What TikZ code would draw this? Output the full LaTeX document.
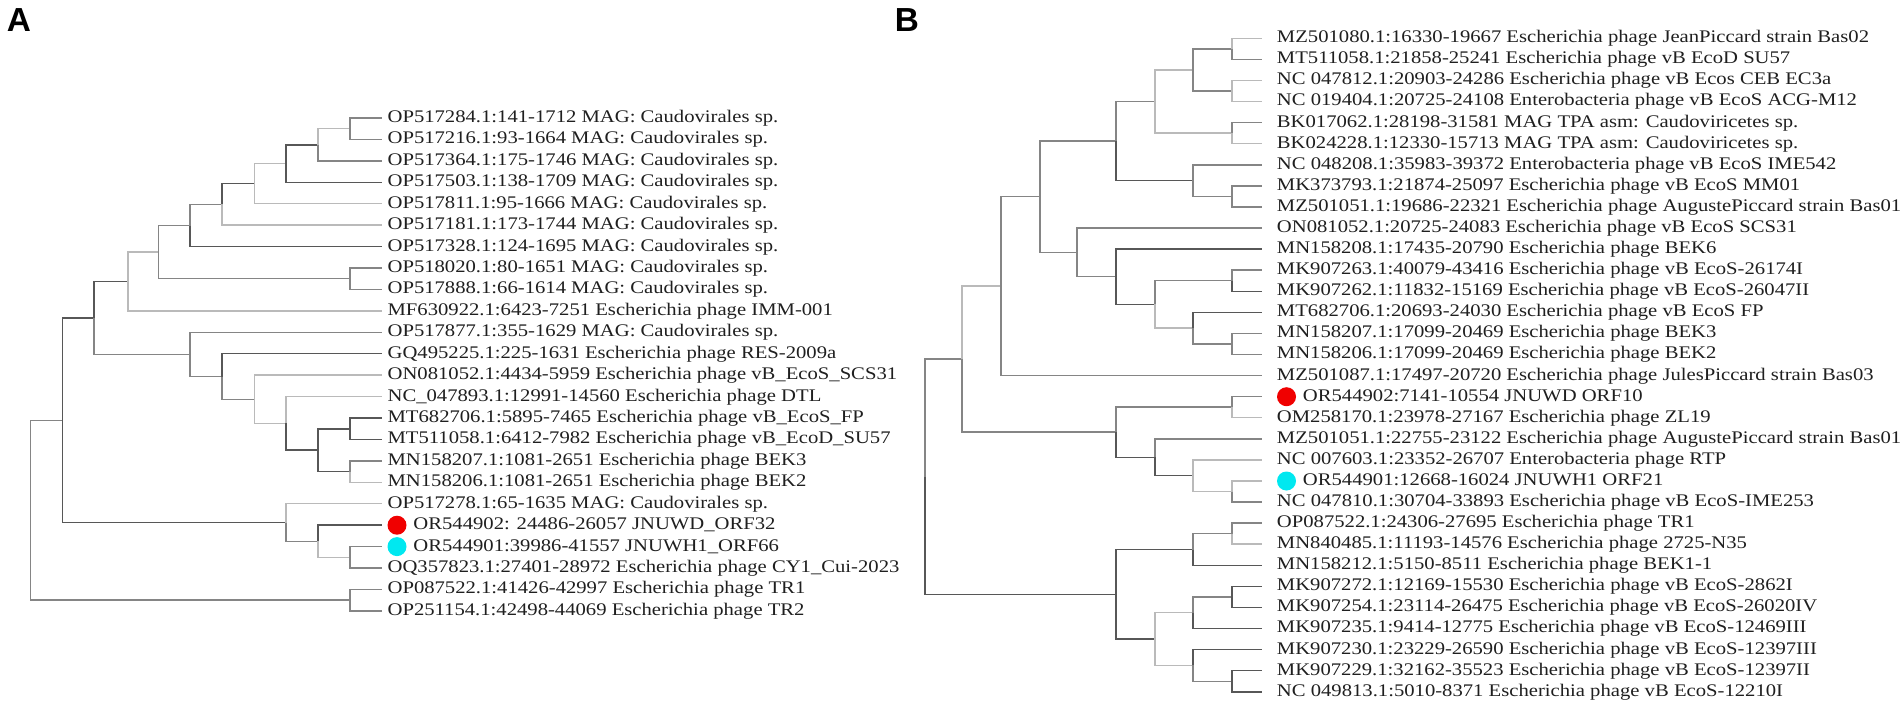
\documentclass[tikz,border=0pt]{standalone}
\usepackage{fontspec}
\setmainfont{Liberation Serif}
\newfontfamily\lblfont[FakeStretch=1.165]{Liberation Serif}
\newfontfamily\panelfont{Liberation Sans}
\usetikzlibrary{positioning}

\definecolor{dotred}{RGB}{240,0,0}
\definecolor{dotcyan}{RGB}{0,232,240}

\tikzset{
  dk/.style={draw=black!66, line width=1.1pt},
  md/.style={draw=black!48, line width=1.1pt},
  lt/.style={draw=black!27, line width=1.1pt},
  leaf/.style={anchor=west, inner xsep=#1, inner ysep=0pt, text height=0.66em, text depth=0pt,
    font=\lblfont\fontsize{13.3pt}{15pt}\selectfont, text=black!88},
  leaf/.default=4pt,
  dot/.style={circle, minimum size=14.25pt, inner sep=0pt, outer sep=#1},
  panel/.style={inner sep=0pt, font=\panelfont\bfseries\fontsize{25pt}{27pt}\selectfont}
}

\begin{document}
\begin{tikzpicture}[x=0.75pt, y=-0.75pt]

\useasboundingbox (0,0) rectangle (1901,711);

\node[panel] (pA) at (19,20) {A};
\node[panel] (pB) at (907,20) {B};

% ---------- tree A ----------
\coordinate (Ar) at (30.4,510.2);
\coordinate (As) at (62.5,420.3);
\coordinate (Aj) at (94,318.0);
\coordinate (Ai) at (128,281.5);
\coordinate (Ah) at (158.5,252.1);
\coordinate (Af) at (190,225.5);
\coordinate (Ae) at (222,204.4);
\coordinate (Ad) at (254.5,183.6);
\coordinate (Ac) at (286,163.6);
\coordinate (Ab) at (318,144.8);
\coordinate (Aa) at (350,128.7);
\coordinate (Ag) at (350,278.7);
\coordinate (Ak) at (190,354.4);
\coordinate (Al) at (222,376.5);
\coordinate (Am) at (254.5,399.3);
\coordinate (An) at (286,423.4);
\coordinate (Ao) at (318,450.2);
\coordinate (Ap) at (350,428.8);
\coordinate (Aq) at (350,471.6);
\coordinate (At) at (286,522.5);
\coordinate (Au) at (318,541.3);
\coordinate (Av) at (350,557.3);
\coordinate (Aw) at (350,600.2);

\node[leaf] (a1) at (382,118.0) {OP517284.1:141-1712 MAG: Caudovirales sp.};
\node[leaf] (a2) at (382,139.4) {OP517216.1:93-1664 MAG: Caudovirales sp.};
\node[leaf] (a3) at (382,160.9) {OP517364.1:175-1746 MAG: Caudovirales sp.};
\node[leaf] (a4) at (382,182.3) {OP517503.1:138-1709 MAG: Caudovirales sp.};
\node[leaf] (a5) at (382,203.7) {OP517811.1:95-1666 MAG: Caudovirales sp.};
\node[leaf] (a6) at (382,225.2) {OP517181.1:173-1744 MAG: Caudovirales sp.};
\node[leaf] (a7) at (382,246.6) {OP517328.1:124-1695 MAG: Caudovirales sp.};
\node[leaf] (a8) at (382,268.0) {OP518020.1:80-1651 MAG: Caudovirales sp.};
\node[leaf] (a9) at (382,289.4) {OP517888.1:66-1614 MAG: Caudovirales sp.};
\node[leaf] (a10) at (382,310.9) {MF630922.1:6423-7251 Escherichia phage IMM-001};
\node[leaf] (a11) at (382,332.3) {OP517877.1:355-1629 MAG: Caudovirales sp.};
\node[leaf] (a12) at (382,353.7) {GQ495225.1:225-1631 Escherichia phage RES-2009a};
\node[leaf] (a13) at (382,375.2) {ON081052.1:4434-5959 Escherichia phage vB\_EcoS\_SCS31};
\node[leaf] (a14) at (382,396.6) {NC\_047893.1:12991-14560 Escherichia phage DTL};
\node[leaf] (a15) at (382,418.0) {MT682706.1:5895-7465 Escherichia phage vB\_EcoS\_FP};
\node[leaf] (a16) at (382,439.5) {MT511058.1:6412-7982 Escherichia phage vB\_EcoD\_SU57};
\node[leaf] (a17) at (382,460.9) {MN158207.1:1081-2651 Escherichia phage BEK3};
\node[leaf] (a18) at (382,482.3) {MN158206.1:1081-2651 Escherichia phage BEK2};
\node[leaf] (a19) at (382,503.7) {OP517278.1:65-1635 MAG: Caudovirales sp.};
\node[dot=4.5pt, fill=dotred] (a20d) at (397,525.2) {};
\node[leaf=0.5pt] (a20) at (412.5,525.2) {OR544902: 24486-26057 JNUWD\_ORF32};
\node[dot=4.5pt, fill=dotcyan] (a21d) at (397,546.6) {};
\node[leaf=0.5pt] (a21) at (412.5,546.6) {OR544901:39986-41557 JNUWH1\_ORF66};
\node[leaf] (a22) at (382,568.0) {OQ357823.1:27401-28972 Escherichia phage CY1\_Cui-2023};
\node[leaf] (a23) at (382,589.4) {OP087522.1:41426-42997 Escherichia phage TR1};
\node[leaf] (a24) at (382,610.9) {OP251154.1:42498-44069 Escherichia phage TR2};

\draw[md] (Ar) |- (As);
\draw[md] (Ar) |- (Aw);
\draw[dk] (As) |- (Aj);
\draw[dk] (As) |- (At);
\draw[dk] (Aj) |- (Ai);
\draw[md] (Aj) |- (Ak);
\draw[lt] (Ai) |- (Ah);
\draw[lt] (Ai) |- (a10.west);
\draw[md] (Ah) |- (Af);
\draw[md] (Ah) |- (Ag);
\draw[md] (Af) |- (Ae);
\draw[dk] (Af) |- (a7.west);
\draw[dk] (Ae) |- (Ad);
\draw[lt] (Ae) |- (a6.west);
\draw[lt] (Ad) |- (Ac);
\draw[lt] (Ad) |- (a5.west);
\draw[dk] (Ac) |- (Ab);
\draw[dk] (Ac) |- (a4.west);
\draw[lt] (Ab) |- (Aa);
\draw[md] (Ab) |- (a3.west);
\draw[md] (Aa) |- (a1.west);
\draw[md] (Aa) |- (a2.west);
\draw[md] (Ag) |- (a8.west);
\draw[md] (Ag) |- (a9.west);
\draw[md] (Ak) |- (a11.west);
\draw[md] (Ak) |- (Al);
\draw[dk] (Al) |- (a12.west);
\draw[md] (Al) |- (Am);
\draw[lt] (Am) |- (a13.west);
\draw[lt] (Am) |- (An);
\draw[lt] (An) |- (a14.west);
\draw[dk] (An) |- (Ao);
\draw[dk] (Ao) |- (Ap);
\draw[dk] (Ao) |- (Aq);
\draw[dk] (Ap) |- (a15.west);
\draw[dk] (Ap) |- (a16.west);
\draw[md] (Aq) |- (a17.west);
\draw[lt] (Aq) |- (a18.west);
\draw[lt] (At) |- (a19.west);
\draw[md] (At) |- (Au);
\draw[dk] (Au) |- (a20d.west);
\draw[lt] (Au) |- (Av);
\draw[md] (Av) |- (a21d.west);
\draw[md] (Av) |- (a22.west);
\draw[md] (Aw) |- (a23.west);
\draw[md] (Aw) |- (a24.west);

% ---------- tree B ----------
\coordinate (Br) at (925,476.75);
\coordinate (BH) at (962,359.2);
\coordinate (BG) at (1001,286.15);
\coordinate (BC) at (1040,196.7);
\coordinate (BB) at (1116,141.05);
\coordinate (BA) at (1155,101.5);
\coordinate (Bn1234) at (1193,69.9);
\coordinate (Bn12) at (1232,48.85);
\coordinate (Bn34) at (1232,91.0);
\coordinate (Bn56) at (1232,133.15);
\coordinate (Bn789) at (1193,180.6);
\coordinate (Bn89) at (1232,196.4);
\coordinate (BX) at (1077,252.4);
\coordinate (BD) at (1116,276.75);
\coordinate (BE) at (1155,304.4);
\coordinate (Bn1213) at (1232,280.75);
\coordinate (BF) at (1193,328.1);
\coordinate (Bn1516) at (1232,343.95);
\coordinate (BI) at (1116,432.2);
\coordinate (Bn1819) at (1232,407.2);
\coordinate (BJ) at (1155,457.25);
\coordinate (BK) at (1193,475.7);
\coordinate (Bn2223) at (1232,491.55);
\coordinate (BL) at (1116,594.3);
\coordinate (BM) at (1193,549.5);
\coordinate (Bn2425) at (1232,533.65);
\coordinate (BN) at (1155,639.05);
\coordinate (BO) at (1193,612.7);
\coordinate (Bn2728) at (1232,596.95);
\coordinate (BP) at (1193,665.4);
\coordinate (Bn3132) at (1232,681.25);

\node[leaf=11pt] (b1) at (1262,38.3) {MZ501080.1:16330-19667 Escherichia phage JeanPiccard strain Bas02};
\node[leaf=11pt] (b2) at (1262,59.4) {MT511058.1:21858-25241 Escherichia phage vB EcoD SU57};
\node[leaf=11pt] (b3) at (1262,80.5) {NC 047812.1:20903-24286 Escherichia phage vB Ecos CEB EC3a};
\node[leaf=11pt] (b4) at (1262,101.5) {NC 019404.1:20725-24108 Enterobacteria phage vB EcoS ACG-M12};
\node[leaf=11pt] (b5) at (1262,122.6) {BK017062.1:28198-31581 MAG TPA asm: Caudoviricetes sp.};
\node[leaf=11pt] (b6) at (1262,143.7) {BK024228.1:12330-15713 MAG TPA asm: Caudoviricetes sp.};
\node[leaf=11pt] (b7) at (1262,164.8) {NC 048208.1:35983-39372 Enterobacteria phage vB EcoS IME542};
\node[leaf=11pt] (b8) at (1262,185.9) {MK373793.1:21874-25097 Escherichia phage vB EcoS MM01};
\node[leaf=11pt] (b9) at (1262,206.9) {MZ501051.1:19686-22321 Escherichia phage AugustePiccard strain Bas01};
\node[leaf=11pt] (b10) at (1262,228.0) {ON081052.1:20725-24083 Escherichia phage vB EcoS SCS31};
\node[leaf=11pt] (b11) at (1262,249.1) {MN158208.1:17435-20790 Escherichia phage BEK6};
\node[leaf=11pt] (b12) at (1262,270.2) {MK907263.1:40079-43416 Escherichia phage vB EcoS-26174I};
\node[leaf=11pt] (b13) at (1262,291.3) {MK907262.1:11832-15169 Escherichia phage vB EcoS-26047II};
\node[leaf=11pt] (b14) at (1262,312.3) {MT682706.1:20693-24030 Escherichia phage vB EcoS FP};
\node[leaf=11pt] (b15) at (1262,333.4) {MN158207.1:17099-20469 Escherichia phage BEK3};
\node[leaf=11pt] (b16) at (1262,354.5) {MN158206.1:17099-20469 Escherichia phage BEK2};
\node[leaf=11pt] (b17) at (1262,375.6) {MZ501087.1:17497-20720 Escherichia phage JulesPiccard strain Bas03};
\node[dot=11.25pt, fill=dotred] (b18d) at (1286.5,396.7) {};
\node[leaf=0.5pt] (b18) at (1302,396.7) {OR544902:7141-10554 JNUWD ORF10};
\node[leaf=11pt] (b19) at (1262,417.7) {OM258170.1:23978-27167 Escherichia phage ZL19};
\node[leaf=11pt] (b20) at (1262,438.8) {MZ501051.1:22755-23122 Escherichia phage AugustePiccard strain Bas01};
\node[leaf=11pt] (b21) at (1262,459.9) {NC 007603.1:23352-26707 Enterobacteria phage RTP};
\node[dot=11.25pt, fill=dotcyan] (b22d) at (1286.5,481.0) {};
\node[leaf=0.5pt] (b22) at (1302,481.0) {OR544901:12668-16024 JNUWH1 ORF21};
\node[leaf=11pt] (b23) at (1262,502.1) {NC 047810.1:30704-33893 Escherichia phage vB EcoS-IME253};
\node[leaf=11pt] (b24) at (1262,523.1) {OP087522.1:24306-27695 Escherichia phage TR1};
\node[leaf=11pt] (b25) at (1262,544.2) {MN840485.1:11193-14576 Escherichia phage 2725-N35};
\node[leaf=11pt] (b26) at (1262,565.3) {MN158212.1:5150-8511 Escherichia phage BEK1-1};
\node[leaf=11pt] (b27) at (1262,586.4) {MK907272.1:12169-15530 Escherichia phage vB EcoS-2862I};
\node[leaf=11pt] (b28) at (1262,607.5) {MK907254.1:23114-26475 Escherichia phage vB EcoS-26020IV};
\node[leaf=11pt] (b29) at (1262,628.5) {MK907235.1:9414-12775 Escherichia phage vB EcoS-12469III};
\node[leaf=11pt] (b30) at (1262,649.6) {MK907230.1:23229-26590 Escherichia phage vB EcoS-12397III};
\node[leaf=11pt] (b31) at (1262,670.7) {MK907229.1:32162-35523 Escherichia phage vB EcoS-12397II};
\node[leaf=11pt] (b32) at (1262,691.8) {NC 049813.1:5010-8371 Escherichia phage vB EcoS-12210I};

\draw[md] (Br) |- (BH);
\draw[dk] (Br) |- (BL);
\draw[lt] (BH) |- (BG);
\draw[md] (BH) |- (BI);
\draw[md] (BG) |- (BC);
\draw[md] (BG) |- (b17.west);
\draw[md] (BC) |- (BB);
\draw[md] (BC) |- (BX);
\draw[md] (BB) |- (BA);
\draw[dk] (BB) |- (Bn789);
\draw[lt] (BA) |- (Bn1234);
\draw[lt] (BA) |- (Bn56);
\draw[md] (Bn1234) |- (Bn12);
\draw[md] (Bn1234) |- (Bn34);
\draw[lt] (Bn12) |- (b1.west);
\draw[md] (Bn12) |- (b2.west);
\draw[lt] (Bn34) |- (b3.west);
\draw[lt] (Bn34) |- (b4.west);
\draw[md] (Bn56) |- (b5.west);
\draw[lt] (Bn56) |- (b6.west);
\draw[md] (Bn789) |- (b7.west);
\draw[md] (Bn789) |- (Bn89);
\draw[md] (Bn89) |- (b8.west);
\draw[md] (Bn89) |- (b9.west);
\draw[md] (BX) |- (b10.west);
\draw[md] (BX) |- (BD);
\draw[dk] (BD) |- (b11.west);
\draw[dk] (BD) |- (BE);
\draw[md] (BE) |- (Bn1213);
\draw[lt] (BE) |- (BF);
\draw[md] (Bn1213) |- (b12.west);
\draw[dk] (Bn1213) |- (b13.west);
\draw[dk] (BF) |- (b14.west);
\draw[md] (BF) |- (Bn1516);
\draw[md] (Bn1516) |- (b15.west);
\draw[md] (Bn1516) |- (b16.west);
\draw[md] (BI) |- (Bn1819);
\draw[dk] (BI) |- (BJ);
\draw[md] (Bn1819) |- (b18d.west);
\draw[lt] (Bn1819) |- (b19.west);
\draw[md] (BJ) |- (b20.west);
\draw[dk] (BJ) |- (BK);
\draw[lt] (BK) |- (b21.west);
\draw[lt] (BK) |- (Bn2223);
\draw[lt] (Bn2223) |- (b22d.west);
\draw[md] (Bn2223) |- (b23.west);
\draw[dk] (BL) |- (BM);
\draw[dk] (BL) |- (BN);
\draw[md] (BM) |- (Bn2425);
\draw[dk] (BM) |- (b26.west);
\draw[md] (Bn2425) |- (b24.west);
\draw[lt] (Bn2425) |- (b25.west);
\draw[lt] (BN) |- (BO);
\draw[lt] (BN) |- (BP);
\draw[md] (BO) |- (Bn2728);
\draw[dk] (BO) |- (b29.west);
\draw[dk] (Bn2728) |- (b27.west);
\draw[dk] (Bn2728) |- (b28.west);
\draw[dk] (BP) |- (b30.west);
\draw[md] (BP) |- (Bn3132);
\draw[dk] (Bn3132) |- (b31.west);
\draw[dk] (Bn3132) |- (b32.west);

\end{tikzpicture}
\end{document}
